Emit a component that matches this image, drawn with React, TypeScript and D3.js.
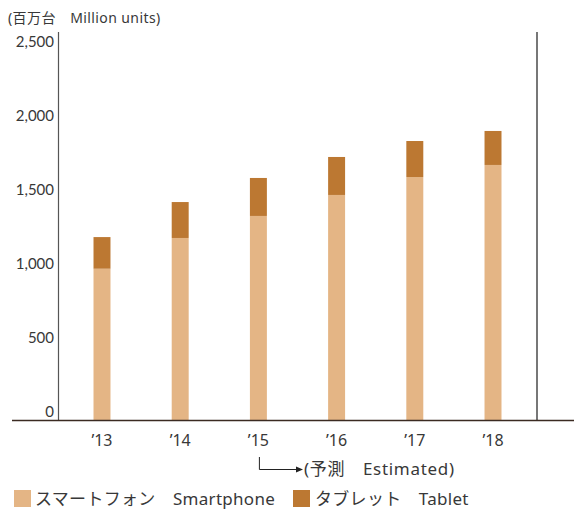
import React from "react";
import * as d3 from "d3";

const years = ["’13", "’14", "’15", "’16", "’17", "’18"];
const smartphone = [1027, 1235, 1384, 1526, 1647, 1729];
const tablet = [214, 243, 257, 257, 244, 230];
const yTicks = [0, 500, 1000, 1500, 2000, 2500];
const unitLabel = "(百万台　Million units)";
const estimateLabel = "(予測　Estimated)";
const legendLabels = ["スマートフォン　Smartphone", "タブレット　Tablet"];
const colors = ["#E4B585", "#BC7832"];

const W = 574;
const H = 509;
const NUM_FONT = "Lato, 'Noto Sans CJK JP', sans-serif";
const FONT = "'Noto Sans', 'Noto Sans CJK JP', sans-serif";

export default function App() {
  const x = d3
    .scaleBand<string>()
    .domain(years)
    .range([58, 537])
    .paddingInner(0.783)
    .paddingOuter(0.454);
  const y = d3.scaleLinear().domain([0, 2500]).range([420.5, 51]);
  const fmt = d3.format(",");

  const stacked = years.map((yr, i) => ({
    yr,
    s: smartphone[i],
    t: tablet[i],
  }));

  const arrowX = (x("’15") as number) + x.bandwidth() / 2 + 1;

  return (
    <svg
      width={W}
      height={H}
      style={{ position: "absolute", left: 0, top: 0, fontFamily: FONT }}
    >
      <rect width={W} height={H} fill="#fff" />
      <text x={8} y={23} fontSize={14} fill="#383838" letterSpacing={0.4}>
        {unitLabel}
      </text>
      {yTicks.map((v) => (
        <text
          key={v}
          x={54}
          y={y(v) - 4}
          textAnchor="end"
          fontSize={15}
          fill="#383838"
          fontFamily={NUM_FONT}
        >
          {fmt(v)}
        </text>
      ))}
      {stacked.map((d) => (
        <g key={d.yr}>
          <rect
            x={x(d.yr)}
            width={x.bandwidth()}
            y={y(d.s)}
            height={y(0) - y(d.s)}
            fill={colors[0]}
          />
          <rect
            x={x(d.yr)}
            width={x.bandwidth()}
            y={y(d.s + d.t)}
            height={y(d.s) - y(d.s + d.t)}
            fill={colors[1]}
          />
          <text
            x={(x(d.yr) as number) + x.bandwidth() / 2}
            y={446}
            textAnchor="middle"
            fontSize={16}
            fill="#383838"
          >
            {d.yr}
          </text>
        </g>
      ))}
      <line x1={58.5} x2={58.5} y1={32} y2={420} stroke="#555" strokeWidth={1.2} />
      <line x1={537} x2={537} y1={32} y2={420} stroke="#777" strokeWidth={2} />
      <line x1={12} x2={574} y1={420.5} y2={420.5} stroke="#3b2b22" strokeWidth={1.5} />
      <path
        d={`M${arrowX},457 V469.5 H297`}
        fill="none"
        stroke="#222"
        strokeWidth={1}
      />
      <path d="M296,466.5 L303,469.5 L296,472.5 Z" fill="#222" />
      <text x={304} y={474.5} fontSize={17} fill="#383838" letterSpacing={0.7}>
        {estimateLabel}
      </text>
      {legendLabels.map((l, i) => (
        <g key={l}>
          <rect x={i === 0 ? 14 : 293} y={490} width={17} height={17} fill={colors[i]} />
          <text
            x={i === 0 ? 35 : 315}
            y={504.5}
            fontSize={17}
            fill="#383838"
            letterSpacing={0.3}
          >
            {l}
          </text>
        </g>
      ))}
    </svg>
  );
}
